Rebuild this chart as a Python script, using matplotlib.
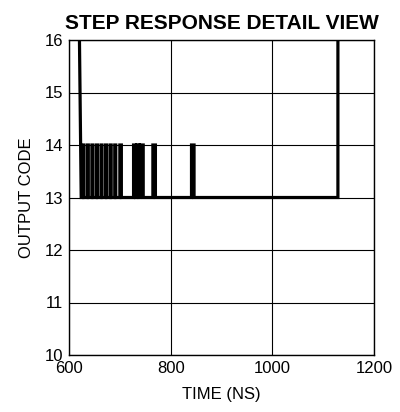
import matplotlib
matplotlib.use("Agg")
import matplotlib.pyplot as plt

# Step response data (time in ns, output code)
time_ns = [620, 624,
           627, 627, 629, 629, 636, 636, 638, 638, 645, 645, 647, 647,
           654, 654, 656, 656, 663, 663, 665, 665, 672, 672, 674, 674,
           681, 681, 683, 683, 690, 690, 692, 692, 700, 700, 703, 703,
           727, 727, 731, 731, 733, 733, 738, 738, 740, 740, 746, 746,
           765, 765, 770, 770,
           841, 841, 846, 846,
           1129, 1129]
code = [16.5, 13,
        13, 14, 14, 13, 13, 14, 14, 13, 13, 14, 14, 13,
        13, 14, 14, 13, 13, 14, 14, 13, 13, 14, 14, 13,
        13, 14, 14, 13, 13, 14, 14, 13, 13, 14, 14, 13,
        13, 14, 14, 13, 13, 14, 14, 13, 13, 14, 14, 13,
        13, 14, 14, 13,
        13, 14, 14, 13,
        13, 16.5]

x_ticks = [600, 800, 1000, 1200]
y_ticks = [10, 11, 12, 13, 14, 15, 16]

plt.rcParams['font.family'] = ['Liberation Sans', 'DejaVu Sans']

fig = plt.figure(figsize=(4.0, 4.12), dpi=100)
ax = fig.add_axes([69/400, 1-355/412, (374-69)/400, (355-40)/412])
ax.plot(time_ns, code, color='black', linewidth=2.3, solid_joinstyle='miter')
ax.set_xlim(600, 1200)
ax.set_ylim(10, 16)
ax.set_xticks(x_ticks)
ax.set_yticks(y_ticks)
ax.tick_params(length=0, labelsize=12, pad=4)
ax.grid(True, color='black', linewidth=0.8)
for s in ax.spines.values():
    s.set_linewidth(1.0)
ax.set_xlabel('TIME (NS)', fontsize=12, labelpad=8)
ax.set_ylabel('OUTPUT CODE', fontsize=12, labelpad=8)
ax.set_title('STEP RESPONSE DETAIL VIEW', fontsize=15, fontweight='bold', pad=8)

fig.savefig('out.png', dpi=100)
